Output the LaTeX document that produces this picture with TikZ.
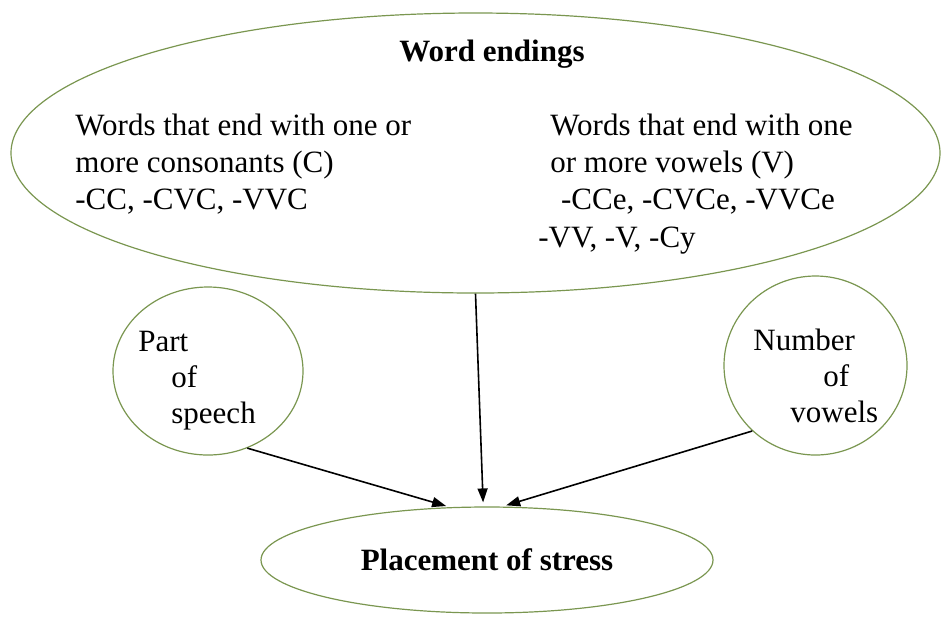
\documentclass[tikz,border=0pt]{standalone}
\usepackage{fontspec}
\setmainfont{Liberation Serif}
\usetikzlibrary{shapes.geometric,arrows.meta}
\definecolor{rimgreen}{RGB}{122,150,80}
\tikzset{
  bubble/.style={draw=rimgreen, line width=0.6pt, ellipse, inner sep=0pt},
  body/.style={inner sep=0pt, align=left, font=\fontsize{15.5}{18}\selectfont},
  head/.style={inner sep=0pt, font=\fontsize{15.5}{18}\selectfont\bfseries},
  arr/.style={-{Triangle[length=7pt,width=5pt]}, line width=0.8pt, shorten >=2pt}
}

\begin{document}
\begin{tikzpicture}[x=0.5pt,y=-0.5pt]
  \useasboundingbox (0,0) rectangle (942,618);
  % the four bubbles
  \node[bubble, minimum width=464.5pt, minimum height=140pt] (endings) at (475.5,153) {};
  \node[bubble, minimum width=95pt, minimum height=84pt] (part) at (208,371) {};
  \node[bubble, minimum width=91.5pt, minimum height=89.5pt] (number) at (815.5,365.5) {};
  \node[bubble, head, minimum width=226pt, minimum height=53pt] (stress) at (487,560) {Placement of stress};
  % texts
  \node[head] (endtitle) at (492,54) {Word endings};
  \node[body, anchor=north west] (conslist) at (75,114)
    {Words that end with one or\\[0.5pt]more consonants (C)\\[0.5pt]-CC, -CVC, -VVC};
  \node[body, anchor=north west] (vowlist) at (550,114)
    {Words that end with one\\[0.5pt]or more vowels (V)\\[0.5pt]\hspace*{1.5pt} -CCe, -CVCe, -VVCe\\[1pt]\hspace*{-6pt}-VV, -V, -Cy};
  \node[body, anchor=north west] (parttext) at (138,331)
    {Part\\\hspace*{16.5pt}of\\\hspace*{16.5pt}speech};
  \node[body, anchor=north west] (numtext) at (753,329)
    {Number\\\hspace*{35pt}of\\\hspace*{18.5pt}vowels};
  % arrows
  \draw[arr] (endings.south) -- (stress.94);
  \draw[arr] (part.-63) -- (stress.125);
  \draw[arr] (number.226) -- (stress.74);
\end{tikzpicture}
\end{document}
